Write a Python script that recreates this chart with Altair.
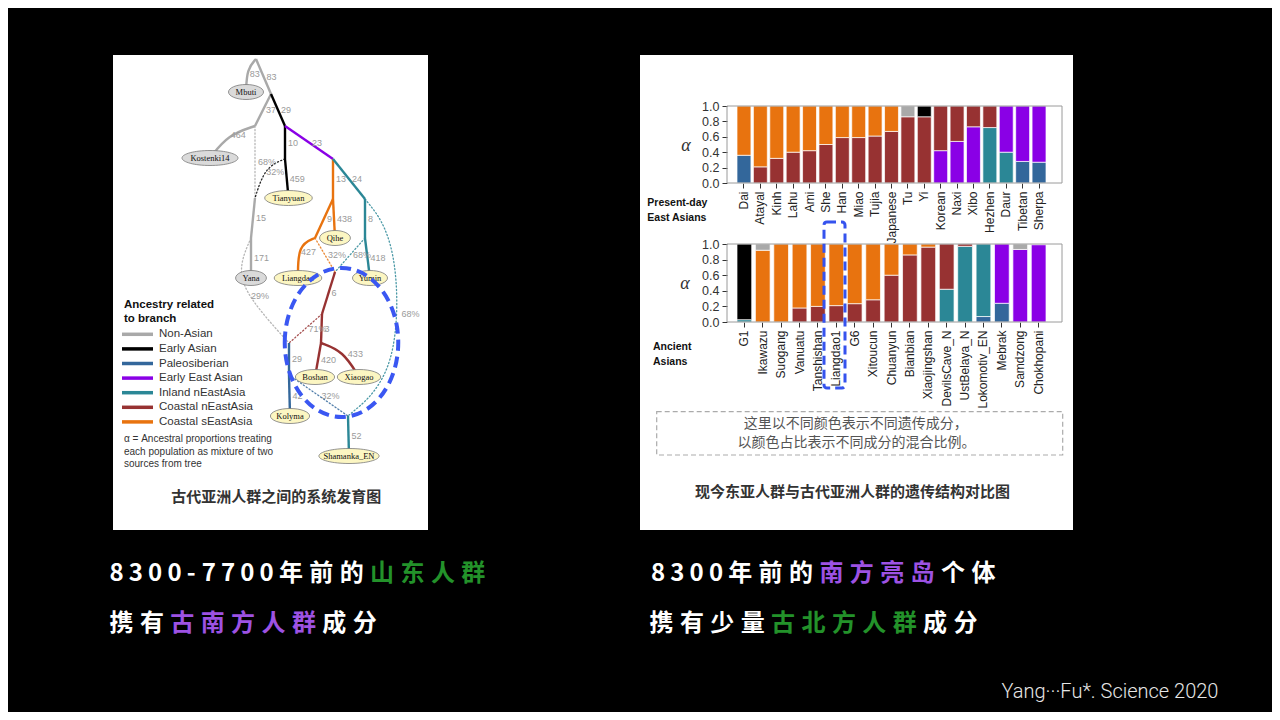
import altair as alt
import pandas as pd

# ---------------- data ----------------
components = ["Non-Asian", "Early Asian", "Paleosiberian", "Early East Asian",
              "Inland nEastAsia", "Coastal nEastAsia", "Coastal sEastAsia"]
component_colors = ["#a9a9a9", "#000000", "#33679b", "#8a00e6",
                    "#2b8796", "#973232", "#e8730f"]

present_pops = ["Dai", "Atayal", "Kinh", "Lahu", "Ami", "She", "Han", "Miao", "Tujia",
                "Japanese", "Tu", "Yi", "Korean", "Naxi", "Xibo", "Hezhen", "Daur",
                "Tibetan", "Sherpa"]
present_low = (["Paleosiberian"] + ["Coastal nEastAsia"] * 11 + ["Early East Asian"] * 3
               + ["Inland nEastAsia"] * 2 + ["Paleosiberian"] * 2)
present_low_val = [0.36, 0.21, 0.32, 0.40, 0.42, 0.50, 0.59, 0.59, 0.61, 0.67, 0.86, 0.86,
                   0.42, 0.54, 0.73, 0.72, 0.40, 0.28, 0.27]
present_up = (["Coastal sEastAsia"] * 10 + ["Non-Asian", "Early Asian"]
              + ["Coastal nEastAsia"] * 4 + ["Early East Asian"] * 3)
present_up_val = [0.64, 0.79, 0.68, 0.60, 0.58, 0.50, 0.41, 0.41, 0.39, 0.33, 0.14, 0.14,
                  0.58, 0.46, 0.27, 0.28, 0.60, 0.72, 0.73]

ancient_pops = ["G1", "Ikawazu", "Suogang", "Vanuatu", "Tanshishan", "Liangdao1", "G6",
                "Xitoucun", "Chuanyun", "Bianbian", "Xiaojingshan", "DevilsCave_N",
                "UstBelaya_N", "Lokomotiv_EN", "Mebrak", "Samdzong", "Chokhopani"]
ancient_low = (["Inland nEastAsia", "Coastal sEastAsia", "Coastal sEastAsia"]
               + ["Coastal nEastAsia"] * 8 + ["Inland nEastAsia"] * 2
               + ["Paleosiberian"] * 2 + ["Early East Asian"] * 2)
ancient_low_val = [0.03, 0.92, 1.00, 0.18, 0.20, 0.21, 0.235, 0.285, 0.60, 0.86, 0.96,
                   0.42, 0.97, 0.07, 0.24, 0.93, 0.99]
ancient_up = (["Early Asian", "Non-Asian", "Coastal sEastAsia"] + ["Coastal sEastAsia"] * 8
              + ["Coastal nEastAsia"] * 2
              + ["Inland nEastAsia", "Early East Asian", "Non-Asian", "Early East Asian"])
ancient_up_val = [0.97, 0.08, 0.0, 0.82, 0.80, 0.79, 0.765, 0.715, 0.40, 0.14, 0.04,
                  0.58, 0.03, 0.93, 0.76, 0.07, 0.0]

# tree (diagram coordinates of the drawn tree)
leaf_names = ["Mbuti", "Kostenki14", "Tianyuan", "Yana", "Qihe", "Liangdao", "Yumin",
              "Boshan", "Xiaogao", "Kolyma", "Shamanka_EN"]
leaf_x = [133, 97, 175.5, 138, 222, 185, 257, 202, 246, 177, 236]
leaf_y = [37, 103, 143, 223, 183, 223, 223, 322, 322, 361, 401]
leaf_group = ["non", "non", "asian", "non", "asian", "asian", "asian", "asian", "asian",
              "asian", "asian"]
junction_names = ["root", "a", "b", "c", "f", "g", "d", "h", "i", "e", "j", "k", "m",
                  "n", "o", "p", "q", "l"]
junction_x = [143, 158, 142, 172, 172, 220, 142, 220, 252, 138, 202, 252, 222, 209, 176,
              208, 176, 235]
junction_y = [4, 39, 71, 71, 104, 104, 143, 144, 144, 183, 183, 183, 217, 259, 288, 288,
              320, 361]

edge_from = ["root", "root", "a", "a", "b", "c", "c", "f", "b", "f", "d", "e", "g", "g",
             "h", "h", "j", "i", "k", "j", "k", "m", "n", "n", "e", "p", "p", "o", "q",
             "q", "i", "l"]
edge_to = ["Mbuti", "a", "b", "c", "Kostenki14", "f", "g", "Tianyuan", "d", "d", "e",
           "Yana", "h", "i", "j", "Qihe", "Liangdao", "k", "Yumin", "m", "m", "n", "p",
           "o", "o", "Boshan", "Xiaogao", "q", "Kolyma", "l", "l", "Shamanka_EN"]
edge_branch = ["Non-Asian", "Non-Asian", "Non-Asian", "Early Asian", "Non-Asian",
               "Early Asian", "Early East Asian", "Early Asian", "Non-Asian", "Early Asian",
               "Non-Asian", "Non-Asian", "Coastal sEastAsia", "Inland nEastAsia",
               "Coastal sEastAsia", "Coastal sEastAsia", "Coastal sEastAsia",
               "Inland nEastAsia", "Inland nEastAsia", "Coastal sEastAsia",
               "Inland nEastAsia", "Coastal nEastAsia", "Coastal nEastAsia",
               "Coastal nEastAsia", "Non-Asian", "Coastal nEastAsia", "Coastal nEastAsia",
               "Paleosiberian", "Paleosiberian", "Paleosiberian", "Inland nEastAsia",
               "Inland nEastAsia"]
edge_kind = ["solid"] * 8 + ["dotted", "dotted"] + ["solid"] * 9 + ["dotted", "dotted"] + \
            ["solid", "solid", "dotted", "dotted", "solid", "solid", "solid", "solid",
             "dotted", "dotted", "solid"]
edge_label = ["83", "83", "37", "29", "464", "10", "23", "459", "68%", "32%", "15", "171",
              "13", "24", "9", "438", "427", "8", "418", "32%", "68%", "6", "3", "71%",
              "29%", "420", "433", "29", "42", "32%", "68%", "52"]
edge_via = {0: [(134, 14)], 4: [(115, 80)], 9: [(152, 112)], 16: [(185, 190)],
            24: [(124, 215), (137, 245)], 26: [(230, 296)],
            30: [(285, 185), (286, 318)]}

legend_title = ["Ancestry related", "to branch"]
legend_note = ["\u03b1 = Ancestral proportions treating",
               "each population as mixture of two", "sources from tree"]

slogans = [
    (109.5, 574, [("8300-7700年前的", "#ffffff"), ("山东人群", "#23922a")]),
    (109.5, 624, [("携有", "#ffffff"), ("古南方人群", "#9d52e3"), ("成分", "#ffffff")]),
    (651.0, 574, [("8300年前的", "#ffffff"), ("南方亮岛", "#9d52e3"), ("个体", "#ffffff")]),
    (649.5, 624, [("携有少量", "#ffffff"), ("古北方人群", "#23922a"), ("成分", "#ffffff")]),
]

# ---------------- tables ----------------
def mix_table(pops, low, low_v, up, up_v):
    rows = []
    for p, a, av, b, bv in zip(pops, low, low_v, up, up_v):
        rows.append(dict(pop=p, comp=a, value=av, ord=0))
        if bv > 0:
            rows.append(dict(pop=p, comp=b, value=bv, ord=1))
    return pd.DataFrame(rows)

present_df = mix_table(present_pops, present_low, present_low_val, present_up, present_up_val)
ancient_df = mix_table(ancient_pops, ancient_low, ancient_low_val, ancient_up, ancient_up_val)

pos = {n: (x, y) for n, x, y in zip(leaf_names, leaf_x, leaf_y)}
pos.update({n: (x, y) for n, x, y in zip(junction_names, junction_x, junction_y)})

pt_rows, lab_rows = [], []
for i, (a, b) in enumerate(zip(edge_from, edge_to)):
    pts = [pos[a]] + edge_via.get(i, []) + [pos[b]]
    for s, (x, y) in enumerate(pts):
        pt_rows.append(dict(edge=i, seq=s, px=x, py=y, branch=edge_branch[i], kind=edge_kind[i]))
    segs = [((pts[k][0] - pts[k + 1][0]) ** 2 + (pts[k][1] - pts[k + 1][1]) ** 2) ** 0.5
            for k in range(len(pts) - 1)]
    half = sum(segs) / 2
    for k, L in enumerate(segs):
        if half <= L:
            t = half / L
            lx = pts[k][0] + t * (pts[k + 1][0] - pts[k][0])
            ly = pts[k][1] + t * (pts[k + 1][1] - pts[k][1])
            break
        half -= L
    lab_rows.append(dict(lx=lx, ly=ly, label=edge_label[i]))
edge_pts = pd.DataFrame(pt_rows)
edge_labs = pd.DataFrame(lab_rows)
nodes_df = pd.DataFrame(dict(name=leaf_names, x=leaf_x, y=leaf_y, grp=leaf_group))
legend_df = pd.DataFrame(dict(branch=components, idx=list(range(len(components)))))

# slogan characters laid out one by one (spaced lettering)
RX, RY = 737, 55
char_rows = []
for x0, yc, segs in slogans:
    x = x0
    for text, col in segs:
        for ch in text:
            char_rows.append(dict(ch=ch, px=x - RX, py=yc - RY, col=col))
            x += 19.3 if ch.isdigit() else (15.0 if ch == "-" else 30.4)
chars_df = pd.DataFrame(char_rows)

one = pd.DataFrame({"k": [0]})

def txt(x, y, s, **kw):
    return alt.Chart(one).mark_text(text=s, **kw).encode(x=alt.value(x), y=alt.value(y))

def box(x, x2, y, y2, **kw):
    return alt.Chart(one).mark_rect(**kw).encode(
        x=alt.value(x), x2=alt.value(x2), y=alt.value(y), y2=alt.value(y2))

def ellipse_path(r):
    return f"M-1,0A1,{r} 0 1,1 1,0A1,{r} 0 1,1 -1,0Z"

color_scale = alt.Scale(domain=components, range=component_colors)

# ---------------- left panel: tree ----------------
LW, LH = 315, 475
xs = alt.Scale(domain=[0, LW], nice=False, zero=False)
ys = alt.Scale(domain=[0, LH], nice=False, zero=False, reverse=True)

canvas = box(-105, 1159, -47, 657, fill="#000000")
panel_l = box(0, LW, 0, LH, fill="#ffffff")

edge_base = alt.Chart(edge_pts).encode(
    x=alt.X("px:Q", scale=xs, axis=None),
    y=alt.Y("py:Q", scale=ys, axis=None),
    detail="edge:N",
    order="seq:Q",
    color=alt.Color("branch:N", scale=color_scale, legend=None),
)
dotted = edge_base.transform_filter("datum.kind == 'dotted'").mark_line(
    interpolate="basis", strokeWidth=1.3, strokeDash=[1.2, 2.3], strokeCap="round", opacity=0.85)
solid = edge_base.transform_filter("datum.kind == 'solid'").mark_line(
    interpolate="basis", strokeWidth=2.4)

edge_text = alt.Chart(edge_labs).mark_text(
    align="left", baseline="middle", dx=3, font="Liberation Sans", fontSize=9, color="#9a9a9a"
).encode(x=alt.X("lx:Q", scale=xs, axis=None), y=alt.Y("ly:Q", scale=ys, axis=None),
         text="label:N")

nodes = alt.Chart(nodes_df).transform_calculate(
    w="4.2*length(datum.name)+14"
).transform_calculate(
    shp="'M-1,0A1,' + (15/datum.w) + ' 0 1,1 1,0A1,' + (15/datum.w) + ' 0 1,1 -1,0Z'",
    sz="datum.w*datum.w",
).mark_point(filled=True, stroke="#7a7a7a", strokeWidth=0.8, opacity=1).encode(
    x=alt.X("x:Q", scale=xs, axis=None),
    y=alt.Y("y:Q", scale=ys, axis=None),
    shape=alt.Shape("shp:N", scale=None),
    size=alt.Size("sz:Q", scale=None),
    fill=alt.Fill("grp:N", scale=alt.Scale(domain=["non", "asian"],
                                          range=["#dadada", "#fcf6c2"]), legend=None),
)
node_text = alt.Chart(nodes_df).mark_text(
    font="Liberation Serif", fontSize=8.5, color="#111111", baseline="middle"
).encode(x=alt.X("x:Q", scale=xs, axis=None), y=alt.Y("y:Q", scale=ys, axis=None),
         text="name:N")

leg_base = alt.Chart(legend_df).transform_calculate(ly="279.3 + 14.6*datum.idx")
leg_rules = leg_base.mark_rule(strokeWidth=3.5).encode(
    x=alt.value(9), x2=alt.value(40),
    y=alt.Y("ly:Q", scale=ys, axis=None),
    color=alt.Color("branch:N", scale=color_scale, legend=None),
)
leg_text = leg_base.mark_text(
    align="left", baseline="middle", font="Liberation Sans", fontSize=11.5, color="#333333"
).encode(x=alt.value(46), y=alt.Y("ly:Q", scale=ys, axis=None), text="branch:N")

left_texts = [
    txt(11, 250, legend_title[0], align="left", baseline="middle", font="Liberation Sans",
        fontWeight="bold", fontSize=11.5, color="#111111"),
    txt(11, 263.5, legend_title[1], align="left", baseline="middle", font="Liberation Sans",
        fontWeight="bold", fontSize=11.5, color="#111111"),
    txt(11, 384.3, legend_note[0], align="left", baseline="middle", font="Liberation Sans",
        fontSize=10, color="#333333"),
    txt(11, 396.6, legend_note[1], align="left", baseline="middle", font="Liberation Sans",
        fontSize=10, color="#333333"),
    txt(11, 408.8, legend_note[2], align="left", baseline="middle", font="Liberation Sans",
        fontSize=10, color="#333333"),
    txt(163.3, 442.3, "古代亚洲人群之间的系统发育图", align="center", baseline="middle",
        font="Noto Sans CJK SC", fontWeight="bold", fontSize=15, color="#333333"),
]

highlight = alt.Chart(one).mark_point(
    shape=ellipse_path(149 / 113.5), size=113.5 ** 2, filled=False, stroke="#3a57f2",
    strokeWidth=4, strokeDash=[11, 6], opacity=1
).encode(x=alt.value(228.5), y=alt.value(287.5))

left = alt.layer(canvas, panel_l, dotted, solid, edge_text, nodes, node_text, leg_rules,
                 leg_text, *left_texts, highlight).properties(width=LW, height=LH)

# ---------------- right panel ----------------
BW = 309


def bar_layer(df, pops, pad_inner, h):
    bars = alt.Chart(df).mark_bar(stroke="white", strokeWidth=0.7).encode(
        x=alt.X("pop:N", sort=pops,
                scale=alt.Scale(paddingInner=pad_inner, paddingOuter=0),
                axis=alt.Axis(title=None, labelAngle=270, labelFont="Liberation Sans",
                              labelFontSize=12, labelColor="#222222", tickColor="#333333",
                              tickSize=5, domain=False, labelPadding=3, labelOverlap=False)),
        y=alt.Y("value:Q", stack="zero", scale=alt.Scale(domain=[0, 1], nice=False),
                axis=alt.Axis(title=None, values=[0, 0.2, 0.4, 0.6, 0.8, 1.0], format=".1f",
                              labelFont="Liberation Sans", labelFontSize=12.5,
                              labelColor="#333333", tickColor="#333333", tickSize=5,
                              offset=10, domain=False, grid=False, labelPadding=3,
                              labelFlush=False)),
        color=alt.Color("comp:N", scale=color_scale, legend=None),
        order=alt.Order("ord:Q"),
    )
    frame = box(-10, 325, 0, h, fill="transparent", stroke="#9a9a9a", strokeWidth=1)
    return bars, frame


top_bars, top_frame = bar_layer(present_df, present_pops, 0.15, 77)
top = alt.layer(top_bars, top_frame).properties(width=BW, height=77)

bot_bars, bot_frame = bar_layer(ancient_df, ancient_pops, 0.2, 78)
liang_box = box(87, 108, -22, 144, fill="transparent", stroke="#3553ee", strokeWidth=3,
                strokeDash=[9, 5], cornerRadius=3)
bottom = alt.layer(bot_bars, bot_frame, liang_box).properties(width=BW, height=78)

panel_r = box(-97, 336, 0, 475, fill="#ffffff")
right_texts = [
    txt(-51, 91, "\u03b1", font="Liberation Serif", fontStyle="italic", fontSize=18,
        color="#333333", baseline="middle"),
    txt(-52, 229, "\u03b1", font="Liberation Serif", fontStyle="italic", fontSize=18,
        color="#333333", baseline="middle"),
    txt(-89.7, 148.3, "Present-day", align="left", baseline="middle", font="Liberation Sans",
        fontWeight="bold", fontSize=10.5, color="#111111"),
    txt(-89.7, 163.3, "East Asians", align="left", baseline="middle", font="Liberation Sans",
        fontWeight="bold", fontSize=10.5, color="#111111"),
    txt(-84, 291.7, "Ancient", align="left", baseline="middle", font="Liberation Sans",
        fontWeight="bold", fontSize=10.5, color="#111111"),
    txt(-84, 306.7, "Asians", align="left", baseline="middle", font="Liberation Sans",
        fontWeight="bold", fontSize=10.5, color="#111111"),
    box(-80.3, 325.7, 356.7, 400, fill="transparent", stroke="#ababab", strokeWidth=1.2,
        strokeDash=[5, 3]),
    txt(118.8, 369.3, "这里以不同颜色表示不同遗传成分，", align="center", baseline="middle",
        font="Noto Sans CJK SC", fontSize=14, color="#555555"),
    txt(119.5, 387.9, "以颜色占比表示不同成分的混合比例。", align="center", baseline="middle",
        font="Noto Sans CJK SC", fontSize=14, color="#555555"),
    txt(115.5, 436.7, "现今东亚人群与古代亚洲人群的遗传结构对比图", align="center",
        baseline="middle", font="Noto Sans CJK SC", fontWeight="bold", fontSize=15,
        color="#333333"),
    txt(264.5, 643.3, "Yang\u00b7\u00b7\u00b7Fu*. Science 2020", align="left",
        baseline="alphabetic", font="Roboto", fontWeight=300, fontSize=20, color="#e6e6e6"),
]
slogan_layer = alt.Chart(chars_df).mark_text(
    align="left", baseline="middle", font="Noto Sans CJK SC", fontWeight="bold", fontSize=24
).encode(
    x=alt.X("px:Q", scale=None),
    y=alt.Y("py:Q", scale=None),
    text="ch:N",
    color=alt.Color("col:N", scale=None),
)
spacer = alt.layer(panel_r, *right_texts, slogan_layer).properties(width=BW, height=51)

right = alt.vconcat(spacer, alt.vconcat(top, bottom, spacing=61, bounds="flush"),
                    spacing=0, bounds="flush")

chart = alt.hconcat(left, right, spacing=309, bounds="flush").properties(
    background="#000000", padding=0
).configure_view(stroke=None)

chart.save("out.html", embed_options={"renderer": "svg", "actions": False})
